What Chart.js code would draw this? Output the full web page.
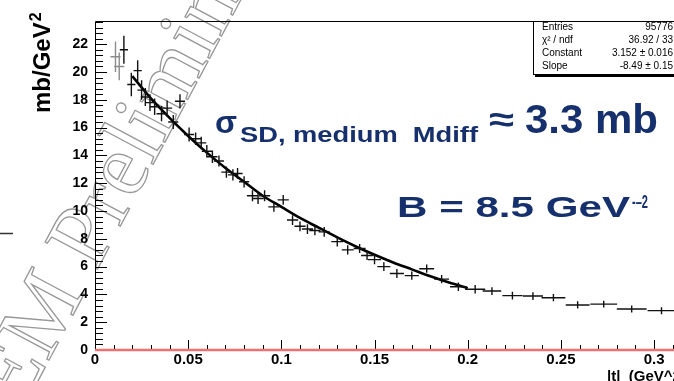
<!DOCTYPE html>
<html><head><meta charset="utf-8">
<script src="https://cdn.jsdelivr.net/npm/chart.js@4/dist/chart.umd.min.js"></script>
<style>html,body{margin:0;padding:0;background:#fff;overflow:hidden}#wrap{width:674px;height:381px}</style>
</head><body><div id="wrap"><canvas id="c" width="674" height="381"></canvas></div>
<script>
// ---- data ----
const tCenters = [0.0155,0.0195,0.0229,0.0250,0.0270,0.0295,0.0320,0.0357,0.0387,0.0420,0.0456,0.0505,0.0540,0.0570,0.0600,0.0630,0.0665,0.0705,0.0740,0.0765,0.0800,0.0845,0.0875,0.0910,0.0960,0.1010,0.1060,0.1100,0.1140,0.1180,0.1230,0.1300,0.1356,0.1420,0.1460,0.1500,0.1550,0.1620,0.1700,0.1780,0.1860,0.1950,0.2040,0.2130,0.2240,0.2350,0.2460,0.2590,0.2730,0.2880,0.3040];
const dSigma   = [21.6,19.1,20.1,18.7,18.2,17.8,17.5,17.0,17.4,16.4,17.9,15.5,15.2,14.9,14.3,13.9,13.6,12.8,12.6,12.7,12.1,11.1,10.9,11.1,10.3,10.8,9.35,8.9,8.7,8.6,8.5,7.8,7.2,7.3,6.8,6.5,6.0,5.5,5.35,5.85,5.1,4.55,4.37,4.24,3.91,3.88,3.76,3.24,3.30,2.95,2.83];
const dSigmaErr= [1.0,0.85,0.75,0.7,0.65,0.6,0.6,0.55,0.55,0.5,0.5,0.5,0.45,0.45,0.45,0.45,0.4,0.4,0.4,0.4,0.4,0.4,0.4,0.4,0.35,0.35,0.35,0.35,0.35,0.35,0.35,0.35,0.33,0.33,0.33,0.33,0.32,0.32,0.3,0.3,0.3,0.3,0.3,0.28,0.28,0.28,0.26,0.26,0.25,0.25,0.25];
const tHalfWidth=[0.0022,0.0022,0.0022,0.0022,0.0025,0.0025,0.0025,0.0027,0.0027,0.0027,0.0027,0.0027,0.0027,0.0027,0.0027,0.0027,0.0027,0.0027,0.0027,0.0027,0.0027,0.003,0.003,0.003,0.003,0.003,0.003,0.003,0.003,0.003,0.003,0.0032,0.0032,0.0032,0.0032,0.0035,0.0035,0.0038,0.0038,0.004,0.004,0.0045,0.0054,0.005,0.0054,0.0054,0.0064,0.0064,0.0072,0.008,0.0075];
const tGray    = [0.0110,0.0130];
const dGray    = [21.1,20.4];
const dGrayErr = [1.1,1.0];
const tGrayHalf= [0.0027,0.0027];
const fitT = [0.020,0.03,0.04,0.05,0.06,0.07,0.08,0.09,0.10,0.11,0.12,0.13,0.14,0.15,0.16,0.17,0.18,0.19,0.20];
const fitV = [19.7,18.1,16.7,15.4,14.2,13.1,12.1,11.1,10.3,9.5,8.8,8.1,7.45,6.85,6.3,5.8,5.3,4.85,4.45];
const zeroLineT = [0,0.3107];
const zeroLineV = [0,0];
const xTickLabels = {0:'0',0.05:'0.05',0.1:'0.1',0.15:'0.15',0.2:'0.2',0.25:'0.25',0.3:'0.3'};
const statsRows = [['Entries','95776'],['\u03c7\u00b2 / ndf','36.92 / 33'],['Constant','3.152 \u00b1 0.016'],['Slope','-8.49 \u00b1 0.15']];

const NAVY = '#16306d';
function scaledText(ctx, str, font, x, y, targetW){
  ctx.font = font;
  const w = ctx.measureText(str).width;
  const sx = targetW ? targetW / w : 1;
  ctx.save(); ctx.translate(x, y); ctx.scale(sx, 1); ctx.fillText(str, 0, 0); ctx.restore();
}

const deco = {
  id:'deco',
  beforeDraw(chart){
    const ctx = chart.ctx;
    ctx.save();
    ctx.fillStyle = '#fff'; ctx.fillRect(0,0,chart.width,chart.height);
    // watermark
    ctx.translate(96, 272);
    ctx.rotate(-62*Math.PI/180);
    ctx.font = '90px "Liberation Serif"';
    const off = ctx.measureText('TOTEM ').width;
    ctx.strokeStyle = '#979797'; ctx.lineWidth = 1.3;
    ctx.strokeText('TOTEM Preliminary', -off, 0);
    ctx.restore();
    // stray dash at left
    ctx.save(); ctx.strokeStyle='#333'; ctx.lineWidth=1.5;
    ctx.beginPath(); ctx.moveTo(0,233.5); ctx.lineTo(13,233.5); ctx.stroke(); ctx.restore();
  },
  beforeDatasetsDraw(chart){
    const {ctx, chartArea:a, scales:{x,y}} = chart;
    ctx.save();
    ctx.strokeStyle = '#000'; ctx.lineWidth = 1;
    ctx.beginPath();
    ctx.moveTo(a.left+0.5, a.bottom); ctx.lineTo(a.left+0.5, a.top+0.5); ctx.lineTo(533, a.top+0.5);
    ctx.moveTo(a.left, a.bottom-0.5); ctx.lineTo(a.right, a.bottom-0.5);
    for (let v=0; v<=y.max+1e-9; v+=0.4){
      const py = Math.round(y.getPixelForValue(v))+0.5;
      const major = Math.abs(v/2 - Math.round(v/2)) < 1e-6;
      ctx.moveTo(a.left, py); ctx.lineTo(a.left + (major?12:8), py);
    }
    for (let v=0; v<=x.max+1e-9; v+=0.01){
      const px = Math.round(x.getPixelForValue(v))+0.5;
      const major = Math.abs(v/0.05 - Math.round(v/0.05)) < 1e-6;
      ctx.moveTo(px, a.bottom); ctx.lineTo(px, a.bottom - (major?10:5));
    }
    ctx.stroke();
    ctx.restore();
  },
  afterDatasetsDraw(chart){
    const {ctx, scales:{x,y}} = chart;
    ctx.save();
    const drawSet = (ts, vs, es, hs, col, lw) => {
      ctx.strokeStyle = col; ctx.lineWidth = lw;
      ctx.beginPath();
      for (let i=0;i<ts.length;i++){
        const px = x.getPixelForValue(ts[i]), py = y.getPixelForValue(vs[i]);
        ctx.moveTo(x.getPixelForValue(ts[i]-hs[i]), py); ctx.lineTo(x.getPixelForValue(ts[i]+hs[i]), py);
        ctx.moveTo(px, y.getPixelForValue(vs[i]-es[i])); ctx.lineTo(px, y.getPixelForValue(vs[i]+es[i]));
      }
      ctx.stroke();
    };
    drawSet(tGray, dGray, dGrayErr, tGrayHalf, '#8c8c8c', 1.4);
    drawSet(tCenters, dSigma, dSigmaErr, tHalfWidth, '#111', 1.4);
    ctx.restore();
  },
  afterDraw(chart){
    const ctx = chart.ctx;
    ctx.save();
    ctx.fillStyle = NAVY; ctx.textBaseline = 'alphabetic';
    scaledText(ctx, '\u03c3', 'bold 32px "Liberation Sans"', 215, 133, 22);
    scaledText(ctx, 'SD, medium  Mdiff', 'bold 22px "Liberation Sans"', 240, 142, 238);
    scaledText(ctx, '\u2248', 'bold 34px "Liberation Sans"', 489, 131, 25);
    scaledText(ctx, '3.3 mb', 'bold 40px "Liberation Sans"', 525, 133, 133);
    scaledText(ctx, 'B = 8.5 GeV', 'bold 30px "Liberation Sans"', 397, 217, 233);
    scaledText(ctx, '-\u20132', 'bold 19px "Liberation Sans"', 632, 208, 16);
    ctx.fillStyle = '#000';
    ctx.save(); ctx.translate(50, 113); ctx.rotate(-Math.PI/2);
    ctx.font = 'bold 24px "Liberation Sans"';
    ctx.fillText('mb/GeV', 0, 0);
    const w = ctx.measureText('mb/GeV').width;
    ctx.font = 'bold 16px "Liberation Sans"';
    ctx.fillText('2', w+1, -9);
    ctx.restore();
    ctx.font = 'bold 15px "Liberation Sans"';
    ctx.fillText('|t|  (GeV^2)', 607, 381);
    ctx.fillStyle = '#fff'; ctx.fillRect(533, 21.5, 150, 54);
    ctx.strokeStyle = '#000'; ctx.lineWidth = 1;
    ctx.strokeRect(533.5, 21.5, 150, 53);
    ctx.lineWidth = 2; ctx.beginPath(); ctx.moveTo(535, 76); ctx.lineTo(680, 76); ctx.stroke();
    ctx.fillStyle = '#000'; ctx.font = '10px "Liberation Sans"';
    statsRows.forEach((r,i)=>{
      const yy = 30 + i*13;
      ctx.textAlign = 'left'; ctx.fillText(r[0], 542, yy);
      ctx.textAlign = 'right'; ctx.fillText(r[1], 673, yy);
    });
    ctx.restore();
  }
};

new Chart(document.getElementById('c'), {
  data: {
    datasets: [
      { type:'line', data: zeroLineT.map((t,i)=>({x:t,y:zeroLineV[i]})), borderColor:'#ee7070', borderWidth:2.5, pointRadius:0, clip:false, order:3 },
      { type:'scatter', data: tCenters.map((t,i)=>({x:t,y:dSigma[i]})), pointRadius:0, showLine:false, order:2 },
      { type:'line', data: fitT.map((t,i)=>({x:t,y:fitV[i]})), borderColor:'#000', borderWidth:2.6, pointRadius:0, tension:0.4, cubicInterpolationMode:'monotone', order:1 }
    ]
  },
  options: {
    responsive:false, animation:false, devicePixelRatio:1,
    layout:{padding:{top:21,right:0,left:0,bottom:0}},
    plugins:{legend:{display:false}, tooltip:{enabled:false}},
    scales:{
      x:{ type:'linear', min:0, max:0.3107,
          grid:{display:false, drawTicks:false}, border:{display:false},
          ticks:{ stepSize:0.05, includeBounds:false, autoSkip:false, maxRotation:0, padding:1, color:'#000',
                  font:{family:'"Liberation Sans"', size:15, weight:'bold'},
                  callback:(v)=>{ const k = Math.round(v*100)/100; return xTickLabels[k] !== undefined ? xTickLabels[k] : ''; } },
          afterFit:(s)=>{ s.height = 31; } },
      y:{ type:'linear', min:0, max:23.67,
          grid:{display:false, drawTicks:false}, border:{display:false},
          ticks:{ stepSize:2, includeBounds:false, padding:7, color:'#000',
                  font:{family:'"Liberation Sans"', size:14, weight:'bold'} },
          afterFit:(s)=>{ s.width = 95; } }
    }
  },
  plugins:[deco]
});
</script>
</body></html>
